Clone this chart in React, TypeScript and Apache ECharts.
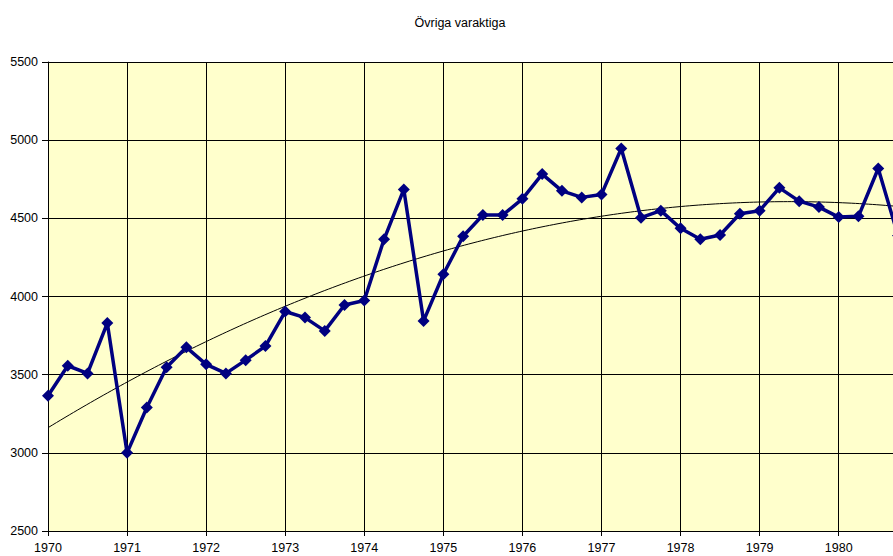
import React, { useEffect, useRef } from "react";
import * as echarts from "echarts";

const TITLE = "Övriga varaktiga";
const START_YEAR = 1970;
const QUARTERS_PER_YEAR = 4;
const values: number[] = [
  3365, 3557, 3508, 3830,
  3000, 3290, 3547, 3675,
  3566, 3508, 3593, 3683,
  3904, 3865, 3780, 3946,
  3974, 4366, 4685, 3844,
  4142, 4385, 4521, 4521,
  4625, 4783, 4676, 4634,
  4653, 4947, 4504, 4549,
  4436, 4366, 4393, 4529,
  4549, 4695, 4610, 4572,
  4508, 4513, 4819, 4390,
];
const yTicks = [2500, 3000, 3500, 4000, 4500, 5000, 5500];

function quadFit(xs: number[], ys: number[]): [number, number, number] {
  // least squares y = a + b x + c x^2
  let s0 = 0, s1 = 0, s2 = 0, s3 = 0, s4 = 0, t0 = 0, t1 = 0, t2 = 0;
  for (let i = 0; i < xs.length; i++) {
    const x = xs[i], y = ys[i];
    s0 += 1; s1 += x; s2 += x * x; s3 += x * x * x; s4 += x * x * x * x;
    t0 += y; t1 += x * y; t2 += x * x * y;
  }
  const M = [
    [s0, s1, s2, t0],
    [s1, s2, s3, t1],
    [s2, s3, s4, t2],
  ];
  for (let i = 0; i < 3; i++) {
    for (let k = i + 1; k < 3; k++) {
      const f = M[k][i] / M[i][i];
      for (let j = i; j < 4; j++) M[k][j] -= f * M[i][j];
    }
  }
  const r = [0, 0, 0];
  for (let i = 2; i >= 0; i--) {
    let s = M[i][3];
    for (let j = i + 1; j < 3; j++) s -= M[i][j] * r[j];
    r[i] = s / M[i][i];
  }
  return [r[0], r[1], r[2]];
}

export default function App() {
  const ref = useRef<HTMLDivElement>(null);
  useEffect(() => {
    if (!ref.current) return;
    const chart = echarts.init(ref.current, undefined, { renderer: "svg" });
    const xs = values.map((_, i) => i / QUARTERS_PER_YEAR);
    const lineData = values.map((v, i) => [START_YEAR + xs[i], v]);
    const [a, b, c] = quadFit(xs, values);
    const lastX = xs[xs.length - 1];
    const trendData: number[][] = [];
    const steps = 200;
    for (let k = 0; k <= steps; k++) {
      const t = (lastX * k) / steps;
      trendData.push([START_YEAR + t, a + b * t + c * t * t]);
    }
    const font = "'Liberation Sans', Arial, sans-serif";
    chart.setOption({
      animation: false,
      title: {
        text: TITLE,
        left: 455,
        textAlign: "center",
        top: 11,
        textStyle: { fontSize: 12.5, fontWeight: "normal", color: "#000", fontFamily: font },
      },
      grid: { left: 48, right: 24, top: 62, bottom: 25, show: true, backgroundColor: "#FFFFCC", borderWidth: 0 },
      xAxis: {
        type: "value",
        min: START_YEAR,
        max: START_YEAR + lastX,
        interval: 1,
        axisLine: { show: true, lineStyle: { color: "#000", width: 1 } },
        axisTick: { show: true, length: 5, lineStyle: { color: "#000" } },
        splitLine: { show: true, lineStyle: { color: "#000", width: 1 } },
        axisLabel: {
          margin: 10,
          fontSize: 12.5,
          color: "#000",
          fontFamily: font,
          showMaxLabel: false,
          formatter: (v: number) => (Number.isInteger(v) ? String(v) : ""),
        },
      },
      yAxis: {
        type: "value",
        min: yTicks[0],
        max: yTicks[yTicks.length - 1],
        interval: yTicks[1] - yTicks[0],
        axisLine: { show: true, lineStyle: { color: "#000", width: 1 } },
        axisTick: { show: true, length: 6, lineStyle: { color: "#000" } },
        splitLine: { show: true, lineStyle: { color: "#000", width: 1 } },
        axisLabel: {
          margin: 10,
          fontSize: 12.5,
          color: "#000",
          fontFamily: font,
          formatter: (v: number) => String(v),
        },
      },
      series: [
        {
          type: "line",
          data: lineData,
          symbol: "diamond",
          symbolSize: 12,
          lineStyle: { color: "#000080", width: 3.5 },
          itemStyle: { color: "#000080" },
          z: 3,
        },
        {
          type: "line",
          data: trendData,
          symbol: "none",
          lineStyle: { color: "#000", width: 1 },
          z: 2,
        },
      ],
    });
    return () => chart.dispose();
  }, []);
  return (
    <div style={{ position: "fixed", left: 0, top: 0, width: 893, height: 556, overflow: "hidden", background: "#fff" }}>
      <div ref={ref} style={{ width: 922, height: 556 }} />
    </div>
  );
}
